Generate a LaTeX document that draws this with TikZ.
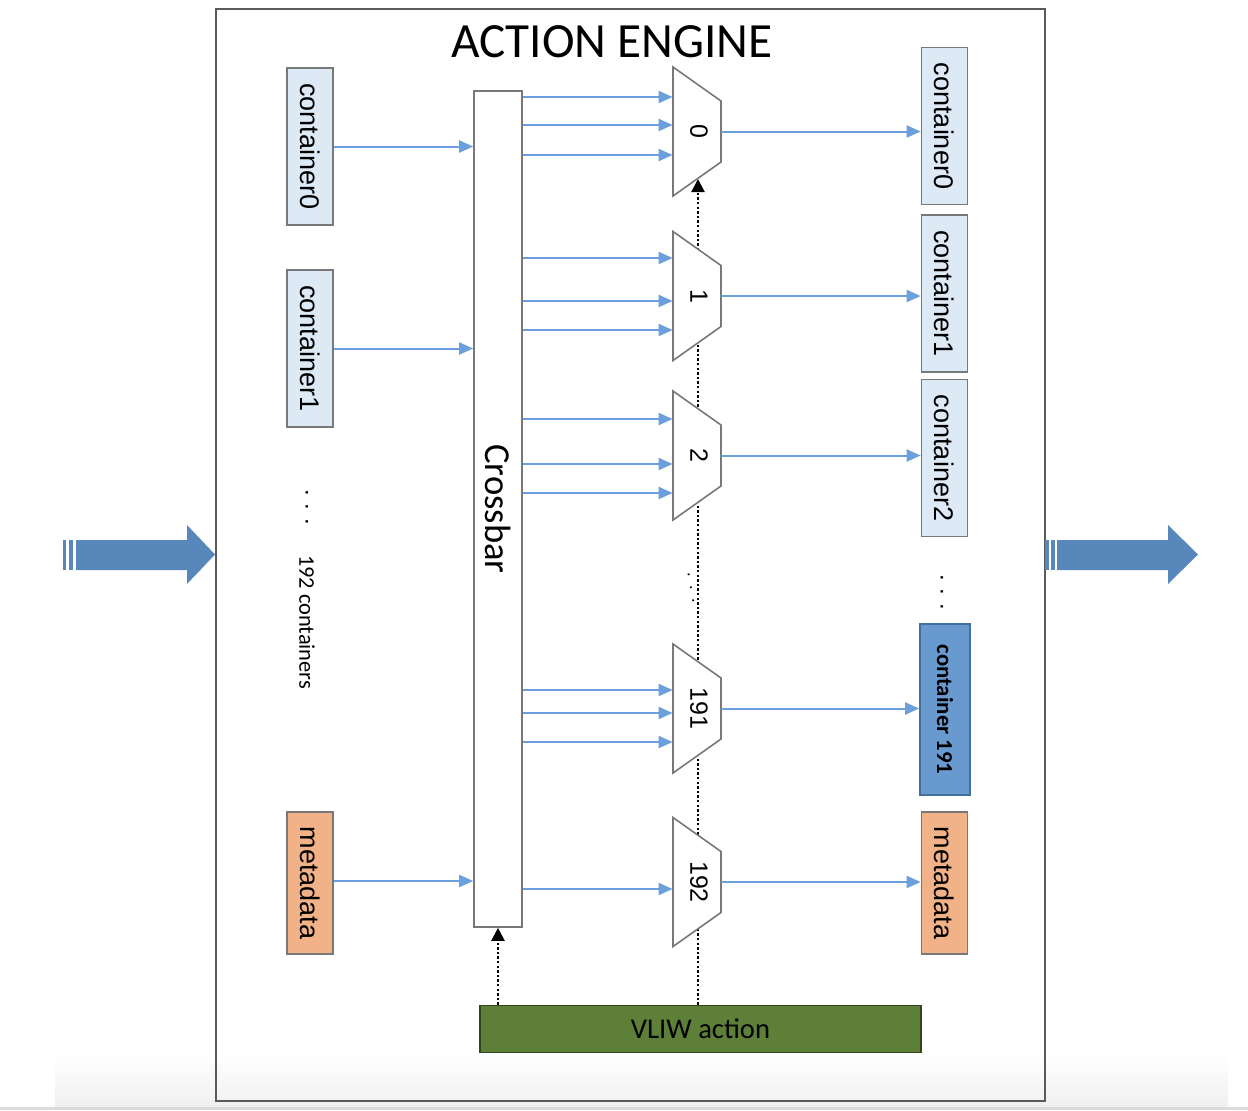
\documentclass[tikz,border=0pt]{standalone}
\usepackage{fontspec}
\setmainfont{Liberation Sans}
\newfontfamily\calfont{Carlito}
\usetikzlibrary{arrows.meta,calc}
\definecolor{boxgray}{RGB}{120,120,120}
\definecolor{framegray}{RGB}{90,90,90}
\definecolor{lblue}{RGB}{222,233,246}
\definecolor{lorange}{RGB}{240,178,134}
\definecolor{cblue}{RGB}{104,153,207}
\definecolor{cblueb}{RGB}{65,113,156}
\definecolor{vgreen}{RGB}{94,127,56}
\definecolor{vgreenb}{RGB}{50,70,30}
\definecolor{linkblue}{RGB}{107,160,220}
\definecolor{bigblue}{RGB}{88,135,187}
\newcommand{\vt}[1]{\rotatebox{-90}{#1}}
\newcommand{\vdotsx}{.\hspace{4pt}.\hspace{4pt}.}
\newcommand{\mux}[3]{%
  \filldraw[muxshape] (673,{#2-64.5}) -- (721,{#2-30.5}) -- (721,{#2+30.5}) -- (673,{#2+64.5}) -- cycle;
  \node[muxnode] (#1) at (697,#2) {\hspace{2pt}\vt{#3}};%
}
\begin{document}
\begin{tikzpicture}[x=0.5pt,y=-0.5pt,
  cont/.style={draw=boxgray, line width=0.8pt, fill=lblue, inner sep=0, minimum width=23pt, minimum height=78.5pt, font=\fontsize{13.5}{16}\selectfont},
  meta/.style={cont, fill=lorange, minimum height=71pt},
  muxshape/.style={draw=boxgray, line width=0.8pt, fill=white},
  muxnode/.style={inner sep=0, minimum width=24pt, minimum height=64.5pt, font=\fontsize{12.5}{14}\selectfont},
  conn/.style={draw=linkblue, line width=1pt, -{Triangle[length=7pt,width=6pt]}},
  ctrl/.style={draw=black, line width=1.1pt, dash pattern=on 1.2pt off 1.1pt, -{Triangle[length=6.5pt,width=6.5pt]}},
  dots/.style={inner sep=0, font=\fontsize{12}{14}\selectfont}
]
\useasboundingbox (0,0) rectangle (1248,1110);
% screenshot bottom band
\shade[top color=white, bottom color=black!6] (55,1055) rectangle (1228,1107);
\fill[black!14] (0,1107) rectangle (1248,1110);
% engine frame
\node[draw=framegray, line width=0.9pt, inner sep=0, minimum width=414.5pt, minimum height=546pt] (engine) at (630.5,555) {};
\node[font=\calfont\fontsize{24.6}{28}\selectfont, inner sep=0] (title) at (612,42) {ACTION ENGINE};
% big arrows
\fill[bigblue] (63,540) rectangle (66,570);
\fill[bigblue] (68.5,540) rectangle (73,570);
\fill[bigblue] (76,540) -- (187,540) -- (187,525) -- (215,554.5) -- (187,584) -- (187,570) -- (76,570) -- cycle;
\fill[bigblue] (1045,540) rectangle (1049,570);
\fill[bigblue] (1051,540) rectangle (1055,570);
\fill[bigblue] (1057,540) -- (1168,540) -- (1168,525) -- (1198,554.5) -- (1168,584) -- (1168,570) -- (1057,570) -- cycle;
% left containers
\node[cont] (lc0) at (310,146.5) {\vt{container0}};
\node[cont] (lc1) at (310,348.5) {\vt{container1}};
\node[meta] (lmeta) at (310,883) {\vt{metadata}};
\node[dots] (ldots) at (307,507) {\vt{\vdotsx}};
\node[inner sep=0, font=\calfont\fontsize{11.2}{13}\selectfont] (lcount) at (307,622) {\vt{192 containers}};
% crossbar
\node[draw=boxgray, line width=0.8pt, fill=white, inner sep=0, minimum width=24pt, minimum height=418pt, font=\calfont\fontsize{18.3}{21}\selectfont] (xbar) at (498,509) {\vt{Crossbar}};
% right containers
\node[cont] (rc0) at (944.5,126) {\vt{container0}};
\node[cont] (rc1) at (944.5,293.5) {\vt{container1}};
\node[cont] (rc2) at (944.5,458) {\vt{container2}};
\node[dots] (rdots) at (942,592) {\vt{\vdotsx}};
\node[draw=cblueb, line width=0.8pt, fill=cblue, inner sep=0, minimum width=25pt, minimum height=85.5pt, font=\calfont\bfseries\fontsize{11.4}{13}\selectfont] (rc191) at (945,709.5) {\vt{container 191}};
\node[meta] (rmeta) at (944.5,883) {\vt{metadata}};
% VLIW
\node[draw=vgreenb, line width=0.8pt, fill=vgreen, inner sep=0, minimum width=220.5pt, minimum height=23.5pt, font=\calfont\fontsize{14.3}{17}\selectfont] (vliw) at (700.5,1029) {VLIW action};
% control line to muxes (behind muxes)
\coordinate (mtip) at (698,179);
\draw[ctrl] (vliw.north -| mtip) -- (mtip);
\draw[ctrl] (vliw.north -| xbar.south) -- (xbar.south);
\node[dots, rotate=-80, font=\fontsize{9}{10}\selectfont] (mdots) at (691,588) {\vdotsx};
% muxes
\mux{m0}{131.5}{0}
\mux{m1}{296}{1}
\mux{m2}{455.5}{2}
\mux{m191}{708.5}{191}
\mux{m192}{882}{192}
% inputs to crossbar
\draw[conn] (lc0.east) -- (lc0.east -| xbar.west);
\draw[conn] (lc1.east) -- (lc1.east -| xbar.west);
\draw[conn] (lmeta.east |- 0,881) -- (xbar.west |- 0,881);
% crossbar to muxes
\foreach \m/\ys in {m0/{97,125,155}, m1/{258,301,330}, m2/{419,464,493}, m191/{690,713,742}, m192/{889}} {
  \foreach \y in \ys {
    \draw[conn] (xbar.east |- 0,\y) -- (\m.west |- 0,\y);
  }
}
% mux outputs
\draw[conn] (m0.east) -- (m0.east -| rc0.west);
\draw[conn] (m1.east) -- (m1.east -| rc1.west);
\draw[conn] (m2.east) -- (m2.east -| rc2.west);
\draw[conn] (m191.east) -- (m191.east -| rc191.west);
\draw[conn] (m192.east) -- (m192.east -| rmeta.west);
\end{tikzpicture}
\end{document}
